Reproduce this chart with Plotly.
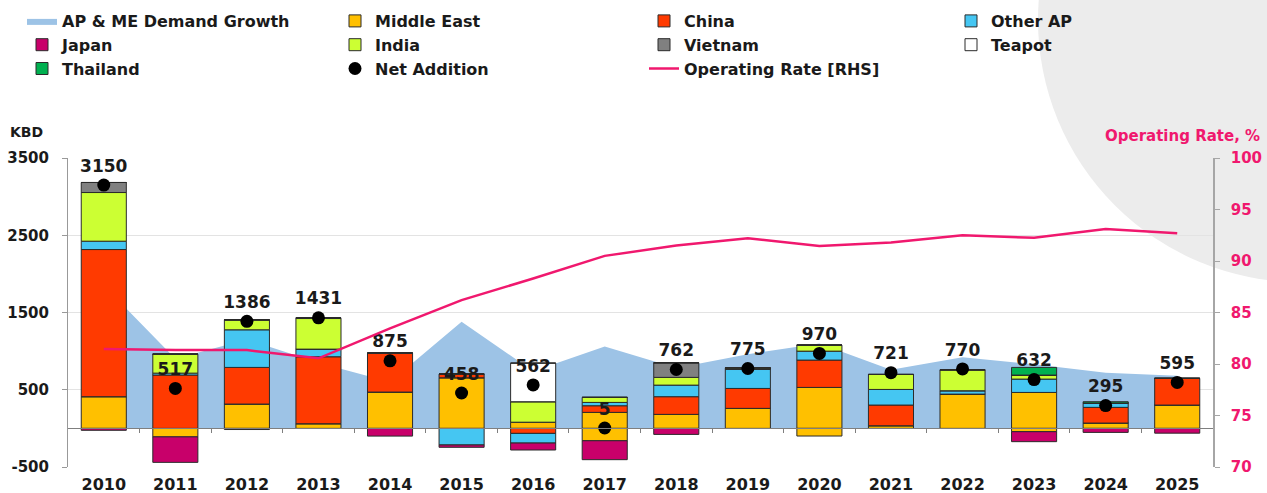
import plotly.graph_objects as go

# ---------------- data ----------------
years = ["2010", "2011", "2012", "2013", "2014", "2015", "2016", "2017",
         "2018", "2019", "2020", "2021", "2022", "2023", "2024", "2025"]

demand_growth = [1850, 900, 1150, 850, 600, 1380, 740, 1060, 780, 960, 1100, 760, 920, 830, 720, 680]

middle_east = [410, 0, 315, 60, 470, 655, 80, 207, 181, 259, 530, 34, 444, 465, 69, 302]
middle_east_neg = [0, -110, 0, 0, 0, 0, 0, -160, 0, 0, -99, 0, 0, -43, 0, 0]
china = [1905, 690, 474, 867, 504, 48, -65, 86, 229, 258, 354, 268, 0, 0, 203, 345]
other_ap = [108, 25, 487, 99, 0, -215, -125, 43, 150, 250, 116, 202, 43, 173, 56, 0]
japan = [-25, -330, -15, 0, -100, -30, -90, -245, -78, 0, 0, 0, 0, -129, -52, -62]
india = [630, 246, 129, 396, 0, 0, 265, 65, 100, 17, 78, 194, 271, 52, 0, 0]
vietnam = [130, 0, 0, 9, 0, 0, 0, 0, 189, 0, 0, 0, 0, 0, 0, 0]
teapot = [0, 0, 0, 0, 0, 0, 500, 0, 0, 0, 0, 0, 0, 0, 0, 0]
thailand = [0, 0, 0, 0, 0, 0, 0, 0, 0, 0, 0, 0, 0, 99, 17, 0]

net_addition = [3150, 517, 1386, 1431, 875, 458, 562, 5, 762, 775, 970, 721, 770, 632, 295, 595]

operating_rate = [81.45, 81.35, 81.35, 80.55, 83.45, 86.2, 88.3, 90.5, 91.5, 92.2,
                  91.45, 91.8, 92.5, 92.25, 93.1, 92.7]

kbd_ticks = [-500, 500, 1500, 2500, 3500]
kbd_tick_labels = ["-500", "500", "1500", "2500", "3500"]

# ---------------- style ----------------
FONT = "DejaVu Sans"
DARK = "#1a1a1a"
PINK = "#f0186e"
OUTLINE = dict(color="#2b2b2b", width=1)

L, R, T, B = 68, 54, 158, 26
W, H = 1267, 493
PW, PH = W - L - R, H - T - B


def px_x(px):
    return (px - L) / PW


def px_y(py):
    return (H - B - py) / PH


fig = go.Figure()

# area (behind bars) on main subplot
fig.add_trace(go.Scatter(
    x=years, y=demand_growth, name="AP & ME Demand Growth", mode="lines",
    fill="tozeroy", fillcolor="#9dc3e6", line=dict(width=0, color="#9dc3e6"),
    legend="legend", hoverinfo="skip"))

bar_specs = [
    ("Middle East", middle_east, "#ffc000", "legend2", True),
    ("Middle East", middle_east_neg, "#ffc000", "legend2", False),
    ("China", china, "#ff3a00", "legend3", True),
    ("Other AP", other_ap, "#45c6f2", "legend4", True),
    ("Japan", japan, "#c8006a", "legend", True),
    ("India", india, "#ccff33", "legend2", True),
    ("Vietnam", vietnam, "#808080", "legend3", True),
    ("Teapot", teapot, "#ffffff", "legend4", True),
    ("Thailand", thailand, "#00b050", "legend", True),
]
for name, vals, col, lg, show in bar_specs:
    fig.add_trace(go.Bar(
        x=years, y=vals, name=name, marker=dict(color=col, line=OUTLINE),
        yaxis="y2", legend=lg, showlegend=show, legendgroup=name))

fig.add_trace(go.Scatter(
    x=years, y=net_addition, name="Net Addition", mode="markers+text",
    marker=dict(color="black", size=13),
    text=[str(v) for v in net_addition], textposition="top center",
    textfont=dict(family=FONT, size=17, color=DARK, weight="bold"),
    yaxis="y2", legend="legend2"))

fig.add_trace(go.Scatter(
    x=years, y=operating_rate, name="Operating Rate [RHS]", mode="lines",
    line=dict(color=PINK, width=2.5), yaxis="y3", legend="legend3"))

# empty helper trace for the zero-line tick axis
fig.add_trace(go.Scatter(x=[], y=[], xaxis="x2", yaxis="y", showlegend=False, hoverinfo="skip"))

boundaries = [i + 0.5 for i in range(len(years) - 1)]

legend_font = dict(family=FONT, size=16, color=DARK, weight="bold")
leg_common = dict(orientation="v", xanchor="left", yanchor="top", y=px_y(4),
                  font=legend_font, bgcolor="rgba(0,0,0,0)", tracegroupgap=0)

fig.update_layout(
    width=W, height=H,
    margin=dict(l=L, r=R, t=T, b=B, autoexpand=False),
    paper_bgcolor="white", plot_bgcolor="rgba(0,0,0,0)",
    font=dict(family=FONT, color=DARK),
    barmode="relative", bargap=0.37,
    xaxis=dict(type="category", range=[-0.5, 15.5], showgrid=False, zeroline=False,
               showline=False, ticks="", automargin=False,
               tickfont=dict(family=FONT, size=16, color=DARK, weight="bold"),
               ticklabelstandoff=6),
    xaxis2=dict(overlaying="x", anchor="free", position=0.125, range=[-0.5, 15.5],
                tickvals=boundaries, ticks="outside", ticklen=4, tickcolor="#7f7f7f",
                showline=True, linecolor="#7f7f7f", linewidth=1, showticklabels=False,
                showgrid=False, zeroline=False, automargin=False),
    yaxis=dict(range=[-500, 3500], tickvals=kbd_ticks, ticktext=kbd_tick_labels,
               showgrid=True, gridcolor="#e3e3e3", zeroline=False, showline=True,
               linecolor="#999999", ticks="outside", ticklen=5, tickcolor="#999999",
               automargin=False,
               tickfont=dict(family=FONT, size=15, color=DARK, weight="bold"),
               ticklabelstandoff=10),
    yaxis2=dict(overlaying="y", range=[-500, 3500], visible=False),
    yaxis3=dict(overlaying="y", side="right", range=[70, 100], dtick=5,
                showgrid=False, zeroline=False, showline=True, linecolor="#a6a6a6",
                linewidth=1.5, ticks="outside", ticklen=5, tickcolor="#a6a6a6",
                automargin=False, ticklabelstandoff=8,
                tickfont=dict(family=FONT, size=15, color=PINK, weight="bold")),
    legend=dict(x=px_x(22), **leg_common),
    legend2=dict(x=px_x(335), **leg_common),
    legend3=dict(x=px_x(644), **leg_common),
    legend4=dict(x=px_x(951), **leg_common),
    shapes=[dict(type="circle", xref="paper", yref="paper",
                 x0=px_x(1038), x1=px_x(1562), y0=px_y(282), y1=px_y(-242),
                 fillcolor="#ececec", line=dict(width=0), layer="below")],
    annotations=[
        dict(text="KBD", xref="paper", yref="paper", x=px_x(8), y=px_y(132),
             xanchor="left", yanchor="middle", showarrow=False,
             font=dict(family=FONT, size=14, color=DARK, weight="bold")),
        dict(text="Operating Rate, %", xref="paper", yref="paper", x=px_x(1262), y=px_y(136),
             xanchor="right", yanchor="middle", showarrow=False,
             font=dict(family=FONT, size=15, color=PINK, weight="bold")),
    ],
)

fig.write_html("out.html")
